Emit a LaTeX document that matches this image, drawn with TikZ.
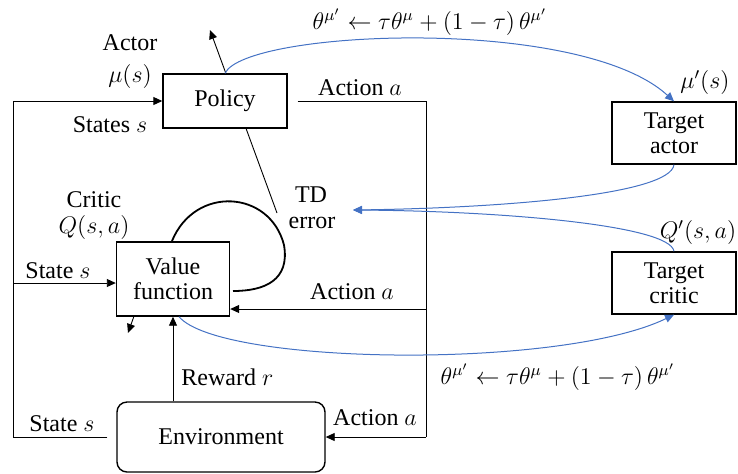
\documentclass[tikz,border=0pt]{standalone}
\usepackage{amsmath,amssymb}
\usepackage{fontspec}
\setmainfont{Liberation Serif}
\usepackage{tikz}
\usetikzlibrary{positioning,arrows.meta}
\definecolor{upblue}{HTML}{4472C4}

\begin{document}
\begin{tikzpicture}[
x = 0.5pt, y = -0.5pt,
node distance = 4pt and 8pt,
font = \fontsize{12}{12.5}\selectfont,
block/.style={rectangle, draw=black, fill=white, line width=0.7pt, align=center, inner sep=2pt},
envbox/.style={block, rounded corners=5pt},
lbl/.style={inner sep=1pt},
arr/.style={-{Triangle[length=4.5pt,width=4pt]}, line width=0.45pt},
plain/.style={line width=0.45pt},
soft/.style={-{Triangle[length=4.5pt,width=4pt]}, upblue, line width=0.5pt}]

\useasboundingbox (0,0) rectangle (738,473);

\coordinate (tdfoot) at (277,213);
\coordinate (tdhead) at (210,30);
\draw[arr] (tdfoot) -- (tdhead);

\node[block, minimum width=62pt, minimum height=27pt] (policy) at (225,101) {Policy};
\node[block, minimum width=56.5pt, minimum height=37pt] (value) at (173,279) {Value\\function};
\node[envbox, minimum width=104pt, minimum height=35pt] (env) at (221,437) {Environment};
\node[block, minimum width=62pt, minimum height=31pt] (tactor) at (674,133) {Target\\actor};
\node[block, minimum width=62pt, minimum height=31pt] (tcritic) at (674,283) {Target\\critic};

\node[lbl] (actor) at (130,43) {Actor};
\node[lbl] (mu) at (130,76) {$\mu(s)$};
\node[lbl] (states) at (110,125) {States $s$};
\node[lbl] (critic) at (94,200) {Critic};
\node[lbl] (q) at (94,227) {$Q(s,a)$};
\node[lbl] (td) at (311,195) {TD};
\node[lbl] (err) at (312,223) {error};
\node[lbl] (act1) at (360,88) {Action $a$};
\node[lbl] (act2) at (352,292) {Action $a$};
\node[lbl] (act3) at (375,418) {Action $a$};
\node[lbl] (st1) at (58,271) {State $s$};
\node[lbl] (st2) at (62,424) {State $s$};
\node[lbl, anchor=west] (rew) at (179,377) {Reward $r$};
\node[lbl] (mup) at (705,82) {$\mu'(s)$};
\node[lbl] (qp) at (698,232) {$Q'(s,a)$};
\node[lbl] (upd1) at (430,22) {$\theta^{\mu'} \leftarrow \tau\theta^{\mu} + (1-\tau)\,\theta^{\mu'}$};
\node[lbl] (upd2) at (558,377) {$\theta^{\mu'} \leftarrow \tau\theta^{\mu} + (1-\tau)\,\theta^{\mu'}$};

\coordinate (lt) at (13,101);
\coordinate (lm) at (13,283);
\coordinate (lb) at (13,437);
\coordinate (rt) at (426,101);
\coordinate (rm) at (426,309);
\coordinate (rb) at (426,437);

\draw[arr] ([xshift=-4.5pt]env.west) -- (lb) -- (lt) -- (policy.west);
\draw[arr] (lm) -- (lm -| value.west);
\draw[plain] ([xshift=5pt]policy.east) -- (rt) -- (rb);
\draw[arr] (rb) -- (env.east);
\draw[arr] (rm) -- (rm -| value.east);
\draw[arr] (env.north -| value.south) -- (value.south);

\coordinate (lpa) at (172,241);
\coordinate (lpb) at (233,291);
\draw[line width=0.9pt] (lpa) .. controls (195,185) and (270,190) .. (284,245) .. controls (290,280) and (265,291) .. (lpb);

\coordinate (stub) at (128,333);
\draw[arr] ([xshift=9pt]value.south west) -- (stub);

\coordinate (tdin) at (353,210);
\draw[soft] (policy.north) .. controls (245,30) and (580,15) .. (tactor.north);
\draw[soft] (tactor.south) .. controls (670,195) and (500,208) .. (tdin);
\draw[soft] (tcritic.north) .. controls (670,225) and (500,211) .. (tdin);
\draw[soft] ([xshift=3pt]value.south) .. controls (220,365) and (560,370) .. (tcritic.south);
\end{tikzpicture}
\end{document}
